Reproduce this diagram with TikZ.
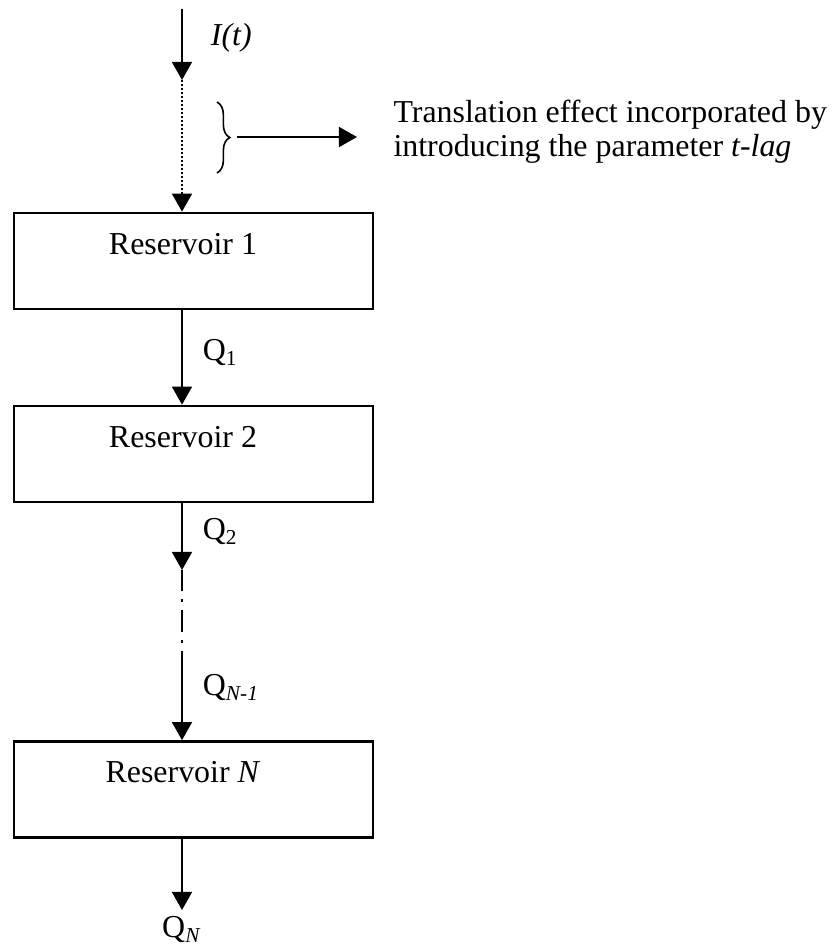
\documentclass[tikz,border=0pt]{standalone}
\usepackage{fontspec}
\setmainfont{Liberation Serif}
\usetikzlibrary{arrows.meta,decorations.pathreplacing}

\begin{document}
\begin{tikzpicture}[x=0.376pt, y=-0.376pt,
    >={Triangle[width=7.5pt,length=6.8pt]},
    font=\fontsize{12}{12.8}\selectfont,
    resbox/.style={draw, line width=1pt, minimum width=135pt,
      minimum height=36.1pt, inner sep=0pt},
    flow/.style={->, line width=0.75pt},
    qlab/.style={anchor=west, inner sep=0pt, xshift=7.5pt}]
  \useasboundingbox (0,0) rectangle (835,947);

  % Reservoirs
  \node[resbox] (res1) at (193.5,261) {};
  \node[resbox] (res2) at (193.5,454) {};
  \node[resbox] (resN) at (193.5,789.5) {};
  \node[inner sep=0pt] (res1txt) at (183,244) {Reservoir 1};
  \node[inner sep=0pt] (res2txt) at (183,437) {Reservoir 2};
  \node[inner sep=0pt] (resNtxt) at (183,772) {Reservoir \textit{N}};

  % Inflow and translation lag
  \coordinate (src) at (182,9);
  \coordinate (lag) at (182,80);
  \draw[flow] (src) -- node[qlab, xshift=3pt, pos=0.4] (inflow) {\textit{I(t)}} (lag);
  \draw[flow, dash pattern=on 0.75pt off 0.75pt] (lag) -- (res1.north -| lag);

  % Brace and note
  \coordinate (bracetop) at (217,102);
  \coordinate (bracebot) at (217,173);
  \draw[line width=0.6pt, decorate, decoration={brace, amplitude=4.8pt}]
    (bracetop) -- (bracebot);
  \coordinate (bracetip) at (237,137);
  \coordinate (noteptr) at (357,137);
  \draw[flow] (bracetip) -- (noteptr);
  \node[anchor=north west, align=left, inner sep=0pt] (note) at (393,99)
    {Translation effect incorporated by\\introducing the parameter \textit{t-lag}};

  % Outflows
  \draw[flow] (res1.south -| src) -- node[qlab, pos=0.45] (q1) {Q\textsubscript{1}}
    (res2.north -| src);
  \coordinate (q2end) at (182,570);
  \coordinate (qn1start) at (182,670);
  \draw[flow] (res2.south -| src) -- node[qlab, pos=0.42] (q2) {Q\textsubscript{2}} (q2end);
  \draw[line width=0.75pt, dash pattern=on 8pt off 3pt on 1.2pt off 3pt]
    (q2end) -- (qn1start);
  \draw[flow] (qn1start) -- node[qlab, pos=0.25] (qn1) {Q\textsubscript{\textit{N-1}}}
    (resN.north -| src);
  \coordinate (out) at (182,910);
  \draw[flow] (resN.south -| src) -- (out) node[below, inner sep=2pt] (qn) {Q\textsubscript{\textit{N}}};
\end{tikzpicture}
\end{document}
